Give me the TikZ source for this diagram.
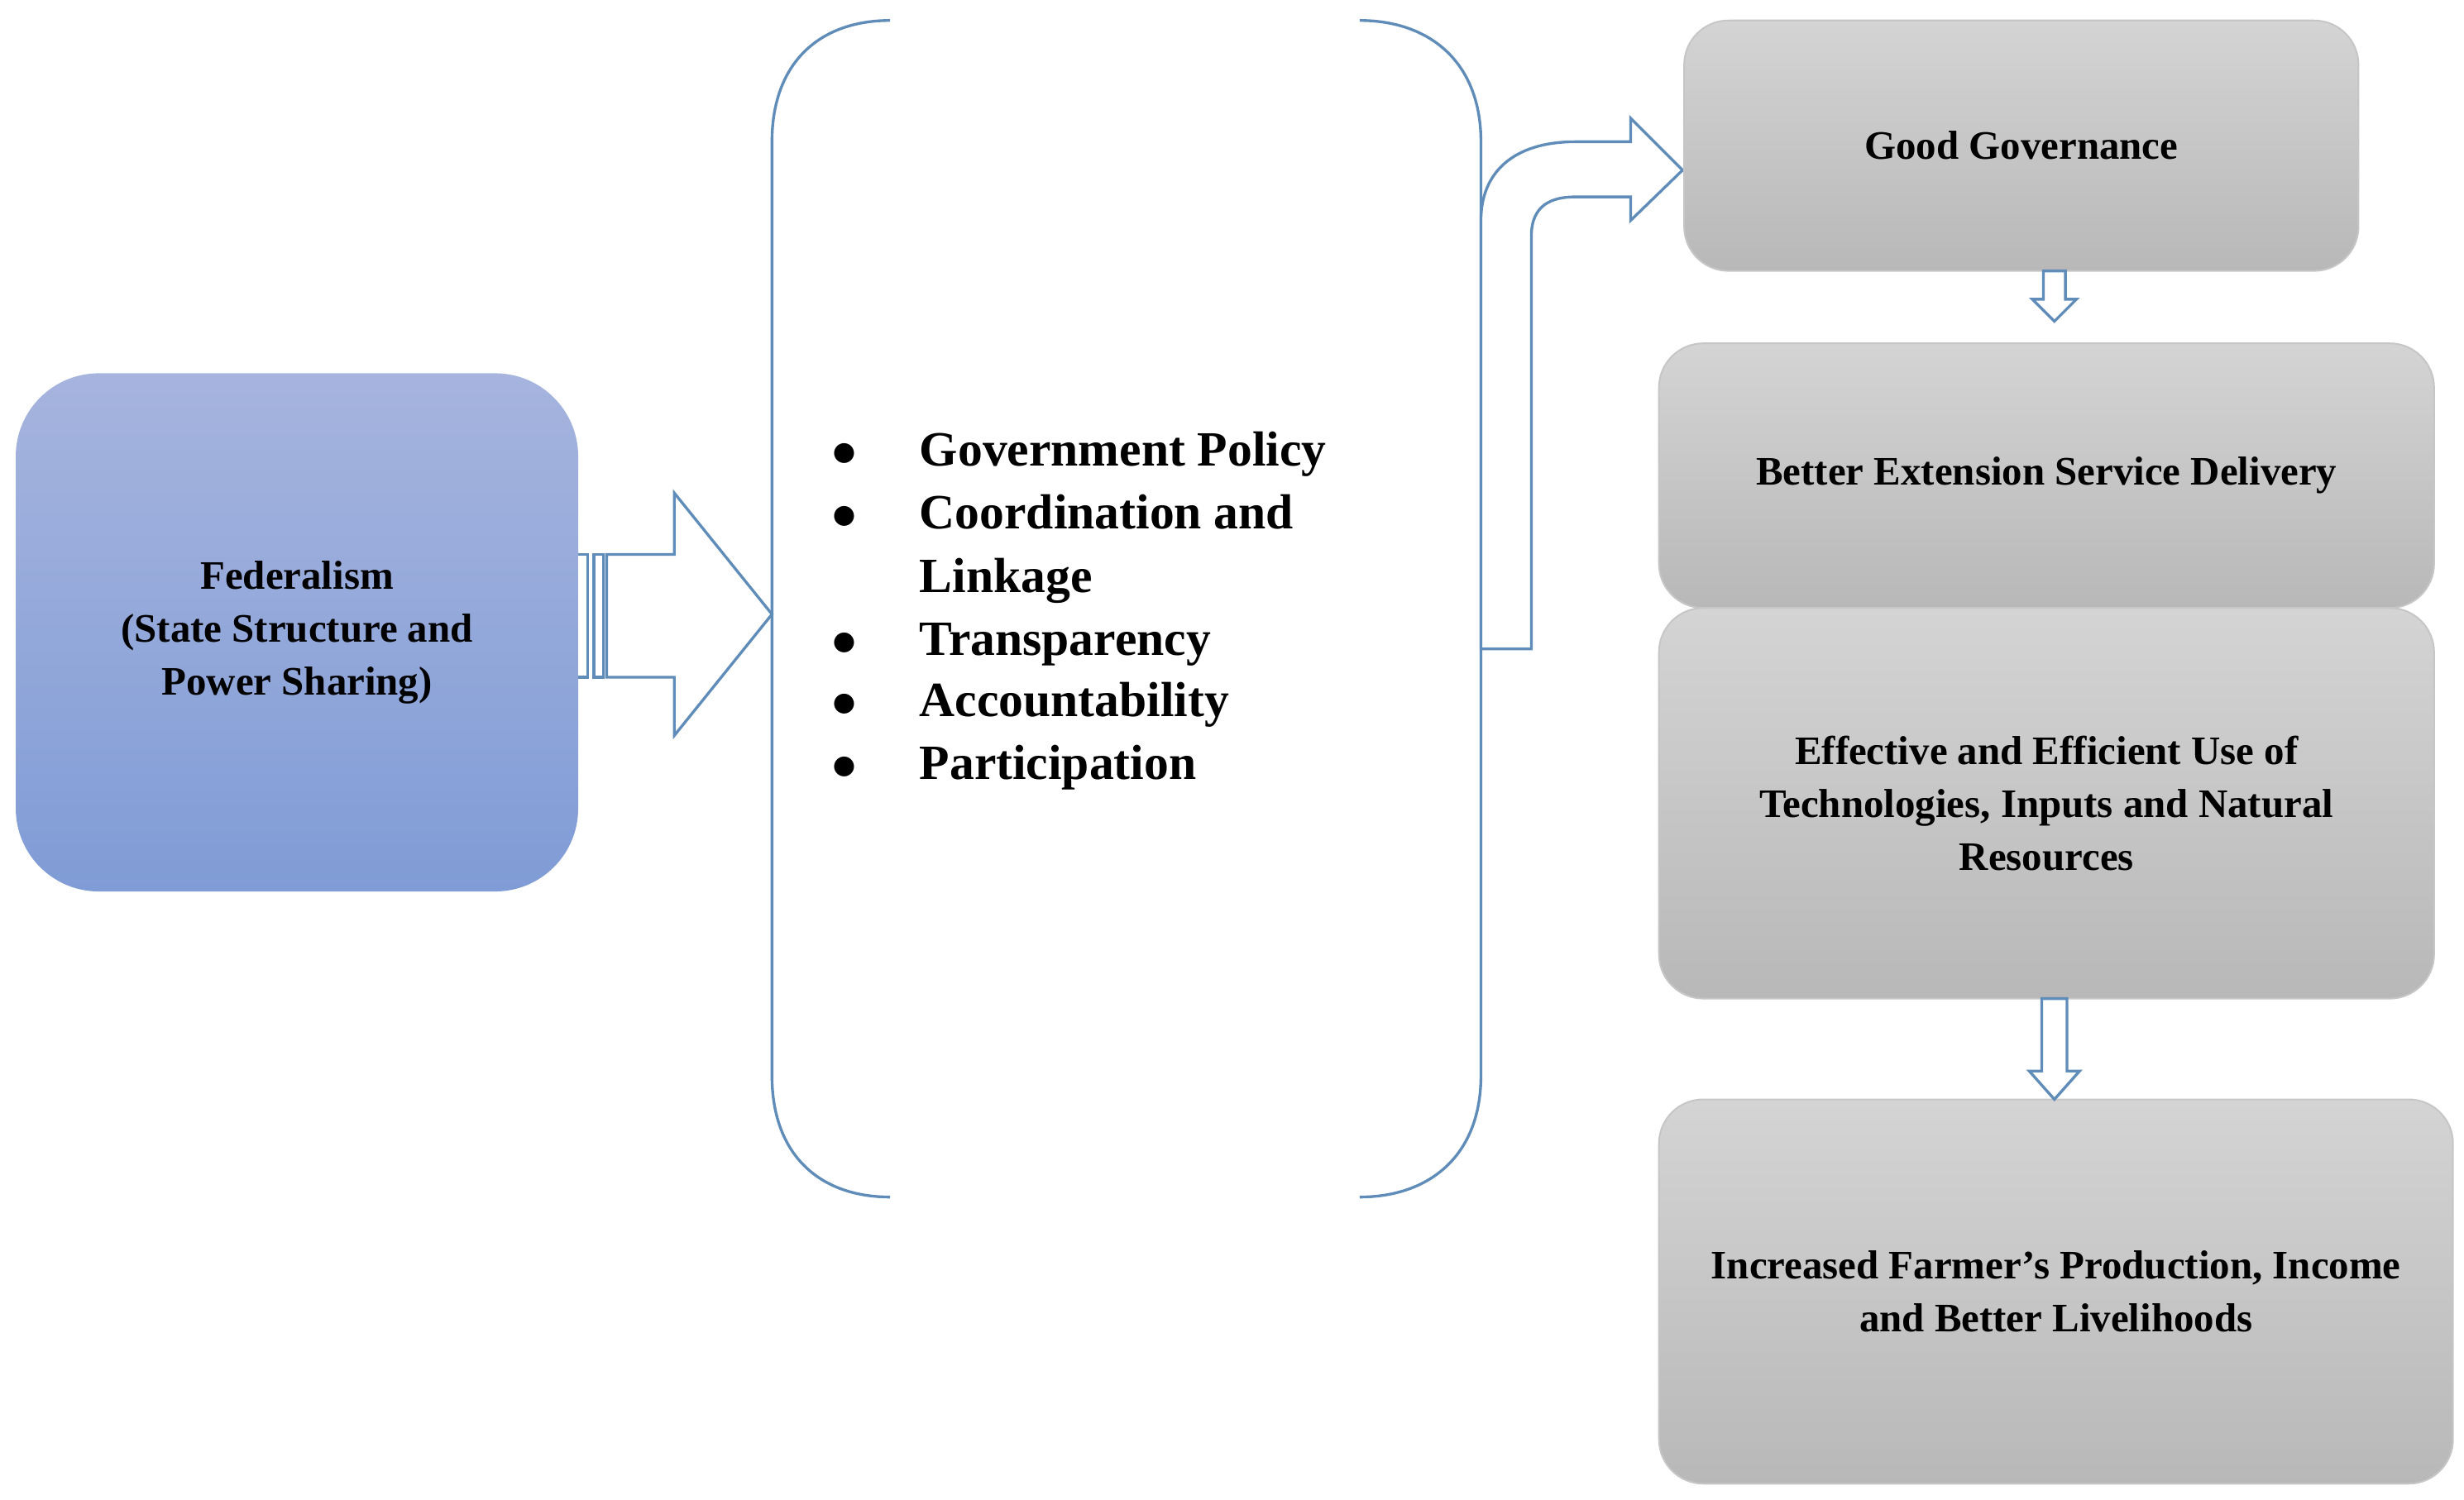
\documentclass[tikz,border=0pt]{standalone}
\usepackage{fontspec}
\setmainfont{Liberation Serif}
\definecolor{fedtop}{RGB}{166,180,222}
\definecolor{fedbot}{RGB}{128,156,214}
\definecolor{gtop}{RGB}{212,212,212}
\definecolor{gbot}{RGB}{184,184,184}
\definecolor{ln}{RGB}{95,140,185}
\begin{document}
\begin{tikzpicture}[x=0.01cm,y=-0.01cm,
  gbox/.style={rounded corners=8pt, top color=gtop, bottom color=gbot, draw=gray!45, line width=0.3pt, align=center, inner sep=0pt, font=\bfseries\fontsize{7.3}{9.6}\selectfont},
  arr/.style={draw=ln, line width=0.5pt, fill=white, line join=miter}]
\useasboundingbox (0,0) rectangle (1564,952);
% Federalism
\node[rounded corners=15pt, top color=fedtop, bottom color=fedbot, draw=none, minimum width=357*0.01cm, minimum height=329*0.01cm, align=center, font=\bfseries\fontsize{7.3}{9.6}\selectfont] (fed) at (188.5,401.5) {Federalism\\(State Structure and\\Power Sharing)};
% fat arrow
\draw[arr] (367,352) -- (373,352) -- (373,430) -- (367,430);
\draw[arr] (377,352) -- (383,352) -- (383,430) -- (377,430) -- cycle;
\draw[arr] (385,352) -- (428,352) -- (428,313) -- (490,390) -- (428,467) -- (428,430) -- (385,430) -- cycle;
% brackets
\draw[arr, fill=none] (565,13) .. controls (520,13) and (490,40) .. (490,90) -- (490,683) .. controls (490,733) and (520,760) .. (565,760);
\draw[arr, fill=none] (863,13) .. controls (908,13) and (940,40) .. (940,90) -- (940,683) .. controls (940,733) and (908,760) .. (863,760);
% bullets
\begin{scope}[every node/.style={anchor=base west, inner sep=0pt, font=\bfseries\fontsize{8.9}{11}\selectfont}]
\foreach \t/\y in {Government Policy/296, Coordination and/336, Linkage/376, Transparency/416, Accountability/455, Participation/495}
  \node at (583,\y) {\t};
\foreach \y in {296,336,416,455,495}
  \node at (527,\y) {$\bullet$};
\end{scope}
% bent arrow
\draw[arr] (940,412) -- (940,140) .. controls (940,110) and (960,90) .. (1000,90) -- (1035,90) -- (1035,75) -- (1068,108) -- (1035,140) -- (1035,125) -- (1000,125) .. controls (985,125) and (972,130) .. (972,150) -- (972,412) -- cycle;
% right boxes
\node[gbox, minimum width=428*0.01cm, minimum height=159*0.01cm] (gg) at (1283,92.5) {Good Governance};
\node[gbox, minimum width=492*0.01cm, minimum height=168*0.01cm] (bes) at (1299,302) {Better Extension Service Delivery};
\node[gbox, minimum width=492*0.01cm, minimum height=248*0.01cm] (eff) at (1299,510) {Effective and Efficient Use of\\Technologies, Inputs and Natural\\Resources};
\node[gbox, minimum width=504*0.01cm, minimum height=244*0.01cm] (inc) at (1305,820) {Increased Farmer's Production, Income\\and Better Livelihoods};
% small arrows
\draw[arr] (1297,172) -- (1311,172) -- (1311,190) -- (1318,190) -- (1304,204) -- (1290,190) -- (1297,190) -- cycle;
\draw[arr] (1296,634) -- (1312,634) -- (1312,680) -- (1320,680) -- (1304,698) -- (1288,680) -- (1296,680) -- cycle;
\end{tikzpicture}
\end{document}
